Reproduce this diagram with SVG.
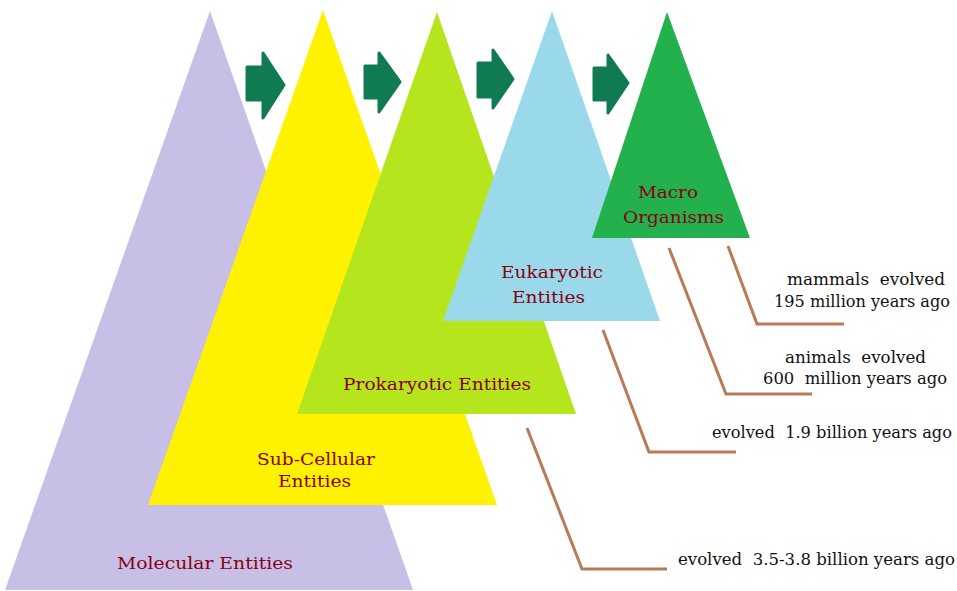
<svg xmlns="http://www.w3.org/2000/svg" width="957" height="591" viewBox="0 0 957 591">
<style>
.lbl{font-family:"DejaVu Serif","Liberation Serif",serif;font-size:17px;fill:#880015}
.note{font-family:"DejaVu Serif","Liberation Serif",serif;font-size:16px;fill:#111}
.arrow{fill:#107a50;stroke:#107a50;stroke-width:3;stroke-linejoin:round}
.lead{fill:none;stroke:#b97a57;stroke-width:3}
</style>
<rect width="957" height="591" fill="#fff"/>
<g id="molecular">
<polygon points="210,11 413,590 5,590" fill="#c8bfe7"/>
<text class="lbl" x="117" y="569" textLength="176" lengthAdjust="spacingAndGlyphs">Molecular Entities</text>
</g>
<g id="subcellular">
<polygon points="323,10 497,505 148,505" fill="#fff200"/>
<text class="lbl" x="257" y="465" textLength="118" lengthAdjust="spacingAndGlyphs">Sub-Cellular</text>
<text class="lbl" x="278" y="487" textLength="73" lengthAdjust="spacingAndGlyphs">Entities</text>
</g>
<g id="prokaryotic">
<polygon points="437,12 576,414 297,414" fill="#b5e61d"/>
<text class="lbl" x="343" y="390" textLength="188" lengthAdjust="spacingAndGlyphs">Prokaryotic Entities</text>
</g>
<g id="eukaryotic">
<polygon points="552,11 660,321 443,321" fill="#99d9ea"/>
<text class="lbl" x="501" y="278" textLength="102" lengthAdjust="spacingAndGlyphs">Eukaryotic</text>
<text class="lbl" x="512" y="303" textLength="73" lengthAdjust="spacingAndGlyphs">Entities</text>
</g>
<g id="macro">
<polygon points="667,12 750,238 592,238" fill="#22b14c"/>
<text class="lbl" x="638" y="198" textLength="60" lengthAdjust="spacingAndGlyphs">Macro</text>
<text class="lbl" x="623" y="223" textLength="101" lengthAdjust="spacingAndGlyphs">Organisms</text>
</g>
<g id="connectors">
<path class="arrow" d="M247,67 H263 V53 L284,85 L263,118 V100 H247 Z"/>
<path class="arrow" d="M365,66 H379 V53 L400,82 L379,112 V98 H365 Z"/>
<path class="arrow" d="M478,63 H493 V50 L513,79 L493,108 V97 H478 Z"/>
<path class="arrow" d="M594,68 H608 V55 L628,83 L608,113 V100 H594 Z"/>
<polyline class="lead" points="728,246 757,324 844,324"/>
<polyline class="lead" points="669,248 726,394 812,394"/>
<polyline class="lead" points="603,330 649,452 736,452"/>
<polyline class="lead" points="527,428 582,569 667,569"/>
</g>
<g id="notes">
<text class="note" x="787" y="285" textLength="158" lengthAdjust="spacingAndGlyphs">mammals &#160;evolved</text>
<text class="note" x="774" y="307" textLength="176" lengthAdjust="spacingAndGlyphs">195 million years ago</text>
<text class="note" x="785" y="363" textLength="141" lengthAdjust="spacingAndGlyphs">animals &#160;evolved</text>
<text class="note" x="763" y="384" textLength="184" lengthAdjust="spacingAndGlyphs">600 &#160;million years ago</text>
<text class="note" x="712" y="438" textLength="240" lengthAdjust="spacingAndGlyphs">evolved &#160;1.9 billion years ago</text>
<text class="note" x="678" y="565" textLength="277" lengthAdjust="spacingAndGlyphs">evolved &#160;3.5-3.8 billion years ago</text>
</g>
</svg>
